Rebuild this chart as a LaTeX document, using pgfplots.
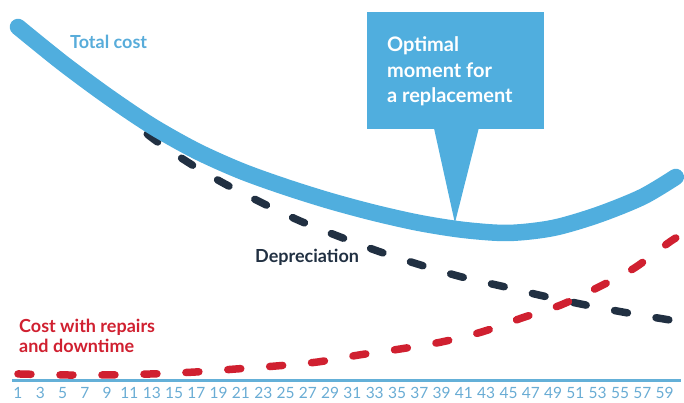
\documentclass[border=0pt]{standalone}
\usepackage{fontspec}
\setmainfont{Lato}
\usepackage{pgfplots}
\pgfplotsset{compat=1.18}
\definecolor{lineblue}{RGB}{80,174,222}
\definecolor{textblue}{RGB}{88,172,218}
\definecolor{tickblue}{RGB}{105,172,212}
\definecolor{axisblue}{RGB}{100,176,216}
\definecolor{navy}{RGB}{33,48,66}
\definecolor{repred}{RGB}{208,32,48}
\begin{document}
\begin{tikzpicture}
\begin{axis}[
  scale only axis, width=669pt, height=381pt,
  xmin=0.5, xmax=60.5, ymin=0, ymax=381,
  axis x line*=bottom, axis y line=none,
  x axis line style={line width=3pt, draw=axisblue},
  xtick={1,3,...,59}, ytick=\empty, major tick length=0pt,
  xticklabel style={font=\fontsize{15.5}{15.5}\selectfont, text=tickblue, yshift=-3pt},
  /pgf/number format/assume math mode=true,
  clip=false,
]
% bounding box of the reference picture
\path (axis cs:-0.614,-22) rectangle (axis cs:60.73,381);

% Depreciation
\addplot[navy, line width=7.5pt, line cap=round, dash pattern=on 13pt off 29pt, smooth] coordinates {
(1,354) (5,319) (8,292) (10,274) (12.8,245) (16.2,219) (19.4,198) (22.9,178)
(26.3,160) (29.9,144) (33.5,129) (37.1,116) (40.8,104) (44.7,94) (48.1,85)
(51.9,76) (55.7,68) (60,60)};

% Cost with repairs and downtime
\addplot[repred, line width=7.5pt, line cap=round, dash pattern=on 13pt off 29pt, smooth] coordinates {
(1,7) (5,6) (9,6) (13,7) (17,9) (20.6,12) (24.2,15) (27.9,19) (31.6,26)
(35.3,32) (39,39) (42.6,49) (46.2,63) (49.7,76) (53.1,94) (56.3,113) (59.2,137) (60,143)};

% Total cost
\addplot[lineblue, line width=16.5pt, line cap=round, smooth] coordinates {
(1,354) (5,318) (9,285) (13,255) (17,230) (21,210) (25,194) (29,180)
(33,168) (37,158) (41,151) (45,148) (49,153) (53,166) (57,184) (60,204)};

% callout
\fill[lineblue] (axis cs:32.3,369) rectangle (axis cs:48.17,252);
\fill[lineblue] (axis cs:38.31,253) -- (axis cs:42.34,253) -- (axis cs:40.19,158) -- cycle;
\node[anchor=base west, inner sep=0pt, text=white, font=\fontsize{20}{20}\selectfont\bfseries] at (axis cs:34.09,329) {Optimal};
\node[anchor=base west, inner sep=0pt, text=white, font=\fontsize{20}{20}\selectfont\bfseries] at (axis cs:34.09,303) {moment for};
\node[anchor=base west, inner sep=0pt, text=white, font=\fontsize{20}{20}\selectfont\bfseries] at (axis cs:34.09,278) {a replacement};

% labels
\node[anchor=base west, inner sep=0pt, text=textblue, font=\fontsize{18}{18}\selectfont\bfseries] at (axis cs:5.66,332) {Total cost};
\node[anchor=base west, inner sep=0pt, text=navy, font=\fontsize{18}{18}\selectfont\bfseries] at (axis cs:22.26,118) {Depreciation};
\node[anchor=base west, inner sep=0pt, text=repred, font=\fontsize{18}{18}\selectfont\bfseries] at (axis cs:1.09,48) {Cost with repairs};
\node[anchor=base west, inner sep=0pt, text=repred, font=\fontsize{18}{18}\selectfont\bfseries] at (axis cs:1.09,28) {and downtime};
\end{axis}
\end{tikzpicture}
\end{document}
